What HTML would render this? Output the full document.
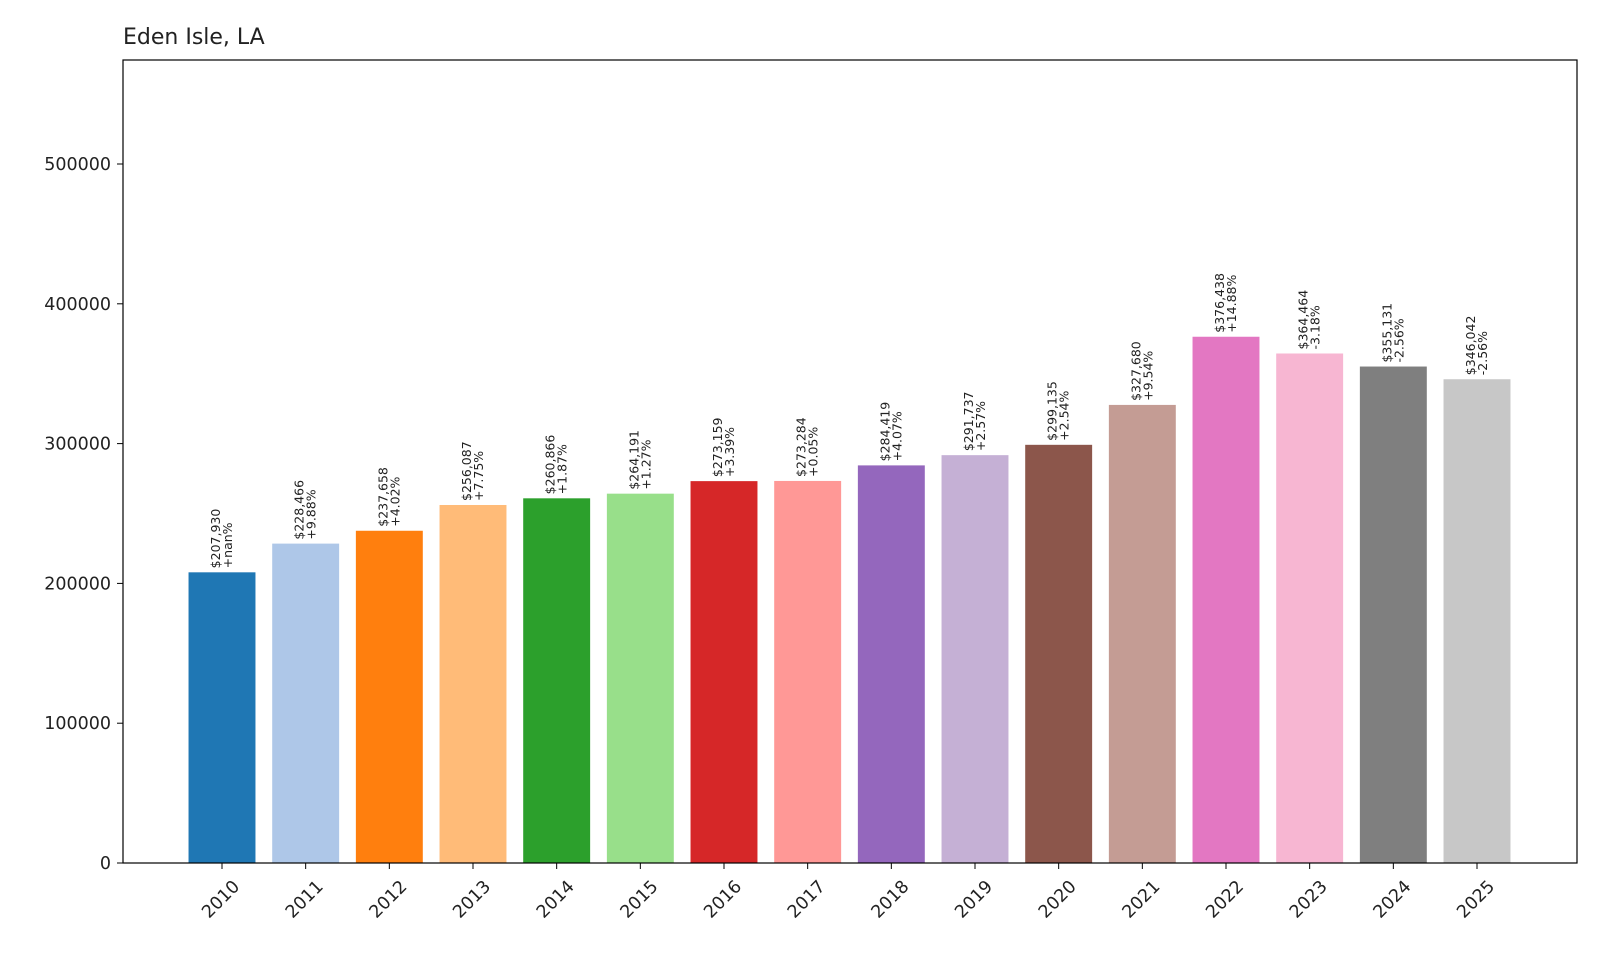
<!DOCTYPE html>
<html><head><meta charset="utf-8"><style>
body{margin:0;background:#fff;}
svg{font-family:"DejaVu Sans","Liberation Sans",sans-serif;}
</style></head><body>
<svg id="chart" width="1600" height="960" viewBox="0 0 1600 960" xmlns="http://www.w3.org/2000/svg">
<rect width="1600" height="960" fill="#fff"/>
<text x="123" y="44" font-size="22" fill="#222">Eden Isle, LA</text>
<g id="bars"></g>
<g id="yaxis"></g>
<g id="xaxis"></g>
<rect x="123" y="60" width="1454" height="803" fill="none" stroke="#000" stroke-width="1.2"/>
</svg>
<script>
const years=["2010","2011","2012","2013","2014","2015","2016","2017","2018","2019","2020","2021","2022","2023","2024","2025"];
const values=[207930,228466,237658,256087,260866,264191,273159,273284,284419,291737,299135,327680,376438,364464,355131,346042];
const changes=["+nan%","+9.88%","+4.02%","+7.75%","+1.87%","+1.27%","+3.39%","+0.05%","+4.07%","+2.57%","+2.54%","+9.54%","+14.88%","-3.18%","-2.56%","-2.56%"];
const yTicks=[0,100000,200000,300000,400000,500000];
const colors=["#1f77b4","#aec7e8","#ff7f0e","#ffbb78","#2ca02c","#98df8a","#d62728","#ff9896","#9467bd","#c5b0d5","#8c564b","#c49c94","#e377c2","#f7b6d2","#7f7f7f","#c7c7c7"];
const NS="http://www.w3.org/2000/svg";
const x0=123,x1=1577,y0=863,y1=60;
const yMax=574400;
const y=v=>y0-(v/yMax)*(y0-y1);
const step=(1477-222)/15;
const xc=i=>222+i*step;
const bw=step*0.8;
function mk(t,a,p){const e=document.createElementNS(NS,t);for(const k in a)e.setAttribute(k,a[k]);p.appendChild(e);return e;}
const gb=document.getElementById('bars'),gy=document.getElementById('yaxis'),gx=document.getElementById('xaxis');
values.forEach((v,i)=>{
  const r=mk('rect',{x:xc(i)-bw/2,y:y(v),width:bw,height:y0-y(v),fill:colors[i]},gb);
  
  
  const tx=xc(i)-2, ty=y(v)-4;
  const t=mk('text',{x:0,y:0,transform:`translate(${tx},${ty}) rotate(-90)`,'font-size':'12.5',fill:'#222'},gb);
  
  
  t.textContent='$'+v.toLocaleString('en-US');
  const t2=mk('text',{x:0,y:0,transform:`translate(${tx+12},${ty}) rotate(-90)`,'font-size':'12.5',fill:'#222'},gb);
  
  
  t2.textContent=changes[i];
  mk('line',{x1:xc(i),x2:xc(i),y1:y0,y2:y0+6,stroke:'#000'},gx);
  const xl=mk('text',{x:0,y:0,transform:`translate(${xc(i)+10},${y0+16}) rotate(-45)`,'text-anchor':'end','dominant-baseline':'hanging','font-size':'17.5',fill:'#222'},gx);
  
  
  xl.textContent=years[i];
});
yTicks.forEach(v=>{
  mk('line',{x1:x0-6,x2:x0,y1:y(v),y2:y(v),stroke:'#000'},gy);
  const t=mk('text',{x:x0-12,y:y(v)+6,'text-anchor':'end','font-size':'17.5',fill:'#222'},gy);
  
  
  t.textContent=v;
});
</script>
</body></html>
